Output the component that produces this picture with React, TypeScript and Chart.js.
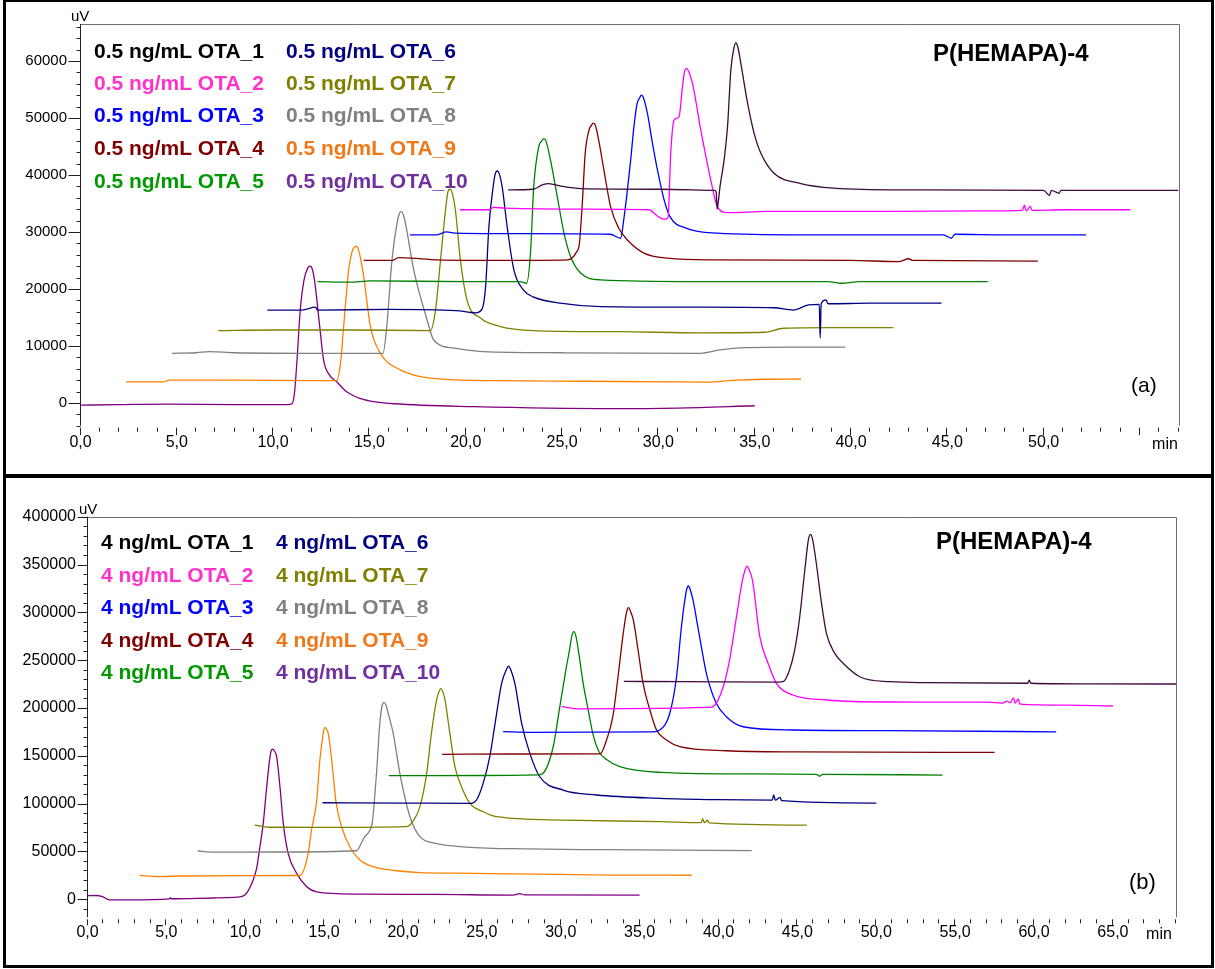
import React, { useEffect, useRef } from 'react';
import { Chart, registerables } from 'chart.js';

Chart.register(...registerables);

type Pt = [number, number];

const FONT = '"Liberation Sans", Arial, sans-serif';

const seriesNames = ['OTA_1', 'OTA_2', 'OTA_3', 'OTA_4', 'OTA_5', 'OTA_6', 'OTA_7', 'OTA_8', 'OTA_9', 'OTA_10'];
const concA = '0.5 ng/mL';
const concB = '4 ng/mL';
const panelTitle = 'P(HEMAPA)-4';
const panelTagA = '(a)';
const panelTagB = '(b)';
const yUnit = 'uV';
const xUnit = 'min';

const lineColors = ['#3c0a3c', '#ff00ff', '#0000ff', '#800000', '#008000', '#000080', '#808000', '#808080', '#ff8000', '#800080'];
const textColors = ['#000000', '#ff33cc', '#0000ff', '#800000', '#009900', '#000080', '#808000', '#808080', '#f07818', '#7030a0'];

// x tick labels (min) and y tick labels (uV)
const xLabelsA = [0, 5, 10, 15, 20, 25, 30, 35, 40, 45, 50];
const yLabelsA = [0, 10000, 20000, 30000, 40000, 50000, 60000];
const xLabelsB = [0, 5, 10, 15, 20, 25, 30, 35, 40, 45, 50, 55, 60, 65];
const yLabelsB = [0, 50000, 100000, 150000, 200000, 250000, 300000, 350000, 400000];

// ---------- Panel (a): 0.5 ng/mL ----------
const a1: Pt[] = [[22.2, 37400], [23.5, 37500], [24.0, 38300], [24.3, 38500], [25.0, 38000], [26, 37600], [30, 37500], [32.9, 37300], [33.0, 37000], [33.05, 34000], [33.1, 35000], [33.2, 38000], [33.41, 42600], [33.59, 48500], [33.76, 58400], [33.92, 62300], [34.02, 63200], [34.12, 62500], [34.28, 59600], [34.63, 52600], [34.97, 47300], [35.32, 43800], [36.0, 40300], [37.4, 38500], [39.1, 37700], [42.6, 37400], [50.0, 37300], [50.3, 36400], [50.4, 37300], [50.8, 36800], [50.9, 37300], [57, 37300]];
const a2: Pt[] = [[19.7, 33900], [21.2, 33900], [21.45, 34300], [22, 34200], [26, 34000], [29.5, 33900], [29.95, 32800], [30.3, 32200], [30.5, 32500], [30.64, 43800], [30.81, 49600], [31.07, 50200], [31.25, 55500], [31.35, 58000], [31.45, 58700], [31.57, 58200], [31.77, 56100], [32.2, 47900], [32.72, 39100], [33.07, 34400], [33.59, 33400], [35.67, 33600], [42, 33600], [47, 33700], [48.9, 33800], [49.0, 34700], [49.1, 33700], [49.3, 34500], [49.4, 33800], [51, 33900], [54.5, 33900]];
const a3: Pt[] = [[17.1, 29500], [18.5, 29500], [19.0, 30000], [19.5, 29800], [23, 29700], [27.5, 29600], [28.04, 28900], [28.2, 32100], [28.56, 42600], [28.73, 48500], [28.9, 52600], [29.02, 53500], [29.12, 54000], [29.22, 53600], [29.43, 50800], [29.69, 45600], [29.95, 40900], [30.3, 35600], [30.6, 32700], [31.5, 30600], [33.07, 29800], [37.4, 29500], [44.8, 29500], [45.2, 28900], [45.4, 29600], [48, 29500], [52.2, 29500]];
const a4: Pt[] = [[14.7, 25000], [16.2, 25000], [16.5, 25500], [17.2, 25400], [18.5, 25100], [22, 25000], [25.3, 25100], [25.75, 26500], [25.9, 28000], [26.05, 35000], [26.2, 43800], [26.4, 47900], [26.52, 48700], [26.62, 49100], [26.74, 48600], [26.9, 46100], [27.17, 40900], [27.52, 34400], [27.95, 30600], [28.39, 28600], [29.25, 26300], [30.47, 25400], [33, 25100], [40, 25000], [42.5, 24800], [43, 25300], [43.2, 25000], [49.7, 24900]];
const a5: Pt[] = [[12.3, 21300], [14, 21200], [15, 21400], [20, 21300], [22.8, 21300], [23.16, 21000], [23.36, 26300], [23.53, 38000], [23.79, 45000], [23.95, 46000], [24.05, 46400], [24.17, 45900], [24.4, 42600], [24.75, 36200], [25.1, 29800], [25.44, 25700], [25.96, 22800], [27, 21600], [32, 21300], [38.8, 21300], [39.5, 21000], [40.5, 21300], [47.1, 21300]];
const a6: Pt[] = [[9.7, 16300], [11.5, 16300], [12.2, 16800], [12.3, 16300], [16, 16400], [19.5, 16200], [20.5, 15800], [20.85, 16500], [21.03, 20400], [21.2, 30900], [21.42, 37900], [21.53, 40200], [21.63, 40700], [21.74, 40200], [21.89, 37900], [22.15, 30900], [22.5, 23300], [23.0, 19800], [23.5, 18600], [24.9, 17500], [27, 16900], [32, 16800], [36, 16700], [37, 16300], [37.8, 17200], [38.35, 17300], [38.4, 11400], [38.45, 17400], [38.7, 18100], [38.8, 17400], [41, 17500], [44.7, 17500]];
const a7: Pt[] = [[7.15, 12700], [10, 12800], [14, 12800], [18.16, 12700], [18.43, 16300], [18.69, 25100], [18.95, 33900], [19.07, 37000], [19.17, 37500], [19.28, 37000], [19.46, 33900], [19.72, 25100], [20.07, 18000], [20.76, 14900], [21.8, 13400], [23.5, 12700], [28, 12500], [32.2, 12300], [35.5, 12400], [36.5, 13100], [39, 13200], [42.2, 13200]];
const a8: Pt[] = [[4.75, 8700], [6.0, 8800], [6.7, 9000], [8, 8800], [12, 8700], [15.7, 8700], [15.9, 13400], [16.17, 25100], [16.43, 31500], [16.54, 33100], [16.64, 33600], [16.75, 33100], [16.87, 31500], [17.3, 23300], [17.99, 14600], [18.34, 11000], [19.4, 9600], [20.9, 9000], [25, 8800], [32.2, 8700], [33.2, 9300], [34.5, 9700], [37, 9800], [39.7, 9800]];
const a9: Pt[] = [[2.37, 3700], [4.3, 3700], [4.6, 4000], [8, 4000], [12, 3900], [13.3, 3900], [13.5, 7000], [13.66, 13400], [13.92, 23300], [14.12, 26800], [14.22, 27300], [14.3, 27500], [14.4, 27200], [14.5, 26000], [14.7, 22200], [15.05, 13400], [15.57, 8700], [16.6, 5800], [18.3, 4300], [21.8, 3900], [26, 3800], [30.5, 3700], [32.5, 3650], [34, 4000], [35.5, 4150], [37.4, 4200]];
const a10: Pt[] = [[0, -400], [2, -300], [4.5, -200], [8, -300], [10.5, -300], [10.95, -200], [11.1, 1500], [11.25, 8000], [11.4, 16000], [11.6, 21500], [11.8, 23700], [11.93, 24000], [12.05, 23300], [12.15, 21500], [12.4, 14000], [12.62, 7500], [12.9, 5000], [13.3, 3700], [13.8, 2000], [14.5, 800], [15.3, 200], [16.3, -150], [20.4, -650], [27.7, -1000], [31, -900], [35, -500]];

// ---------- Panel (b): 4 ng/mL ----------
const b1: Pt[] = [[34.0, 227700], [38, 227500], [43.8, 227000], [44.1, 227400], [44.5, 239600], [44.83, 260600], [45.15, 295400], [45.47, 344200], [45.7, 376000], [45.83, 381600], [45.96, 376500], [46.17, 354700], [46.53, 309400], [46.84, 278000], [47.37, 257100], [47.9, 246700], [48.95, 232600], [50.85, 227400], [53.2, 226400], [59.6, 225800], [59.7, 229000], [59.8, 225800], [63, 225200], [69, 225000]];
const b2: Pt[] = [[30.05, 201300], [31.2, 198900], [36, 199500], [39.4, 200500], [39.66, 201300], [40.3, 222200], [40.7, 250100], [41.14, 295400], [41.52, 333800], [41.68, 344000], [41.81, 348400], [41.94, 344500], [42.15, 333800], [42.62, 274200], [43.14, 246700], [43.67, 225700], [44.72, 213500], [46.84, 208300], [50.85, 206200], [57, 206000], [58.0, 205000], [58.3, 207000], [58.5, 205500], [58.7, 210500], [58.8, 205000], [59.0, 209500], [59.1, 204000], [62, 203000], [65, 202000]];
const b3: Pt[] = [[26.35, 175100], [28, 174500], [35.8, 175000], [36.28, 176900], [36.91, 194400], [37.34, 232600], [37.65, 284900], [37.96, 322500], [38.09, 327500], [38.22, 323000], [38.38, 312900], [38.8, 274500], [39.23, 236200], [39.86, 204800], [40.5, 190800], [41.56, 180300], [44.7, 176900], [50.85, 176200], [61.4, 175000]];
const b4: Pt[] = [[22.48, 151500], [27, 151800], [32.5, 152000], [32.9, 166400], [33.3, 190800], [33.63, 232600], [33.96, 278000], [34.17, 300000], [34.3, 304800], [34.43, 300500], [34.6, 292000], [34.9, 260600], [35.22, 225700], [35.65, 197800], [36.07, 176900], [36.7, 166400], [37.55, 159400], [40.5, 155200], [45, 154000], [57.5, 153500]];
const b5: Pt[] = [[19.1, 129100], [25, 129300], [28.6, 130000], [28.88, 131600], [29.52, 159400], [29.94, 201300], [30.36, 243100], [30.57, 262000], [30.7, 275000], [30.83, 279700], [30.96, 275000], [31.1, 262000], [31.42, 225700], [31.74, 197800], [32.05, 172000], [32.4, 155000], [32.9, 146000], [33.75, 138500], [36.3, 132600], [42, 131000], [46.2, 130500], [46.4, 128500], [46.6, 130500], [54.2, 129800]];
const b6: Pt[] = [[14.9, 100800], [20, 100500], [24.3, 100200], [24.66, 103700], [25.08, 121100], [25.5, 149000], [25.87, 187300], [26.25, 225700], [26.55, 240000], [26.69, 243800], [26.83, 240000], [27.09, 225700], [27.52, 183900], [28.04, 152500], [28.67, 128000], [30.15, 114100], [32.27, 108900], [36.3, 105400], [40, 104000], [43.4, 103500], [43.5, 109000], [43.6, 103500], [43.9, 106500], [44, 103000], [50, 100500]];
const b7: Pt[] = [[10.6, 77500], [11.5, 75200], [15, 75000], [20.2, 75800], [20.44, 77500], [21.07, 96700], [21.5, 131600], [21.8, 173400], [22.13, 208300], [22.27, 216500], [22.4, 220100], [22.53, 216500], [22.66, 208300], [22.97, 173400], [23.29, 138500], [23.71, 117600], [24.24, 100200], [25.09, 91400], [25.93, 86200], [30.15, 82700], [36.3, 81000], [38.9, 80000], [39.0, 84000], [39.1, 80000], [39.3, 82500], [39.4, 79800], [45.6, 77500]];
const b8: Pt[] = [[6.98, 50600], [7.8, 49200], [12, 49300], [17.06, 50600], [17.4, 60000], [17.58, 65300], [17.9, 72000], [18.05, 80000], [18.32, 131600], [18.53, 183900], [18.67, 202000], [18.8, 205900], [18.93, 202500], [19.06, 194400], [19.38, 173400], [19.8, 131600], [20.44, 86200], [21.07, 65300], [22, 58500], [24, 54500], [28, 52500], [35, 51500], [42.1, 50800]];
const b9: Pt[] = [[3.3, 24900], [4.5, 23600], [6, 24200], [10, 24500], [13.46, 24700], [13.99, 47900], [14.2, 72300], [14.52, 101900], [14.73, 145500], [14.94, 173400], [14.99, 177500], [15.07, 179700], [15.16, 177500], [15.26, 173400], [15.48, 145500], [15.75, 101900], [16.11, 75700], [16.63, 54800], [17.27, 40900], [18.1, 33900], [19.6, 29700], [21.07, 27800], [24.4, 27000], [30, 25800], [33.4, 25200], [38.3, 25000]];
const b10: Pt[] = [[0, 3600], [0.5, 3800], [0.9, 3000], [1.4, -800], [2.5, -700], [5.2, 300], [5.25, 1500], [5.3, 400], [8, 1200], [9.5, 2000], [9.98, 4300], [10.5, 20000], [10.72, 32200], [10.93, 54800], [11.14, 79300], [11.36, 117600], [11.57, 149000], [11.64, 155000], [11.74, 157000], [11.85, 155000], [11.99, 149000], [12.2, 117600], [12.41, 79300], [12.72, 47900], [13.26, 27000], [13.9, 13000], [14.52, 7700], [17.06, 5300], [22, 5000], [27, 4200], [27.4, 5800], [27.7, 4400], [35, 4200]];

const seriesA = [a1, a2, a3, a4, a5, a6, a7, a8, a9, a10];
const seriesB = [b1, b2, b3, b4, b5, b6, b7, b8, b9, b10];

interface PanelCfg {
  w: number;
  h: number;
  series: Pt[][];
  conc: string;
  tag: string;
  xMax: number;
  yMin: number;
  yMax: number;
  yStep: number;
  yMajor: number;
  xLabels: number[];
  yLabels: number[];
  area: { left: number; right: number; top: number; bottom: number };
  yFont: number;
  yPad: number;
  yMajorLen: number;
  xPad: number;
  xMajorLen: number;
  legendX: number[];
  legendRows: number[];
  titleX: number;
  titleY: number;
  tagX: number;
  tagY: number;
  tagSize: number;
  unitY: [number, number];
  unitX: [number, number];
}

const cfgA: PanelCfg = {
  w: 1215, h: 474, series: seriesA, conc: concA, tag: panelTagA,
  xMax: 57, yMin: -4000, yMax: 66500, yStep: 2000, yMajor: 10000,
  xLabels: xLabelsA, yLabels: yLabelsA,
  area: { left: 80.5, right: 1178.5, top: 24, bottom: 425.7 },
  yFont: 15, yPad: 13.5, yMajorLen: 12, xPad: 7.5, xMajorLen: 7.5,
  legendX: [94, 286], legendRows: [50, 82, 114, 147, 180],
  titleX: 933, titleY: 52, tagX: 1131, tagY: 386, tagSize: 21,
  unitY: [71, 16], unitX: [1165, 443],
};

const cfgB: PanelCfg = {
  w: 1215, h: 491, series: seriesB, conc: concB, tag: panelTagB,
  xMax: 69, yMin: -19000, yMax: 400000, yStep: 10000, yMajor: 50000,
  xLabels: xLabelsB, yLabels: yLabelsB,
  area: { left: 87.5, right: 1176, top: 38.7, bottom: 439.3 },
  yFont: 16, yPad: 11.5, yMajorLen: 10, xPad: 6, xMajorLen: 6,
  legendX: [101, 276], legendRows: [63.7, 96, 128.7, 161.3, 193],
  titleX: 936, titleY: 62, tagX: 1129, tagY: 405, tagSize: 22,
  unitY: [79, 31], unitX: [1159, 455],
};

function fmtX(v: number) {
  return v.toFixed(1).replace('.', ',');
}

function stepTicks(min: number, max: number, step: number) {
  const out: { value: number }[] = [];
  const start = Math.ceil(min / step);
  const end = Math.floor(max / step);
  for (let k = start; k <= end; k++) out.push({ value: k * step });
  return out;
}

function Panel({ cfg }: { cfg: PanelCfg }) {
  const ref = useRef<HTMLCanvasElement>(null);
  useEffect(() => {
    const canvas = ref.current;
    if (!canvas) return;
    const overlay = {
      id: 'overlay',
      afterDraw(chart: any) {
        const ctx: CanvasRenderingContext2D = chart.ctx;
        const { left, right, top, bottom } = chart.chartArea;
        const xs = chart.scales.x;
        const ys = chart.scales.y;
        ctx.save();
        // frame (top & right)
        ctx.strokeStyle = '#6e6e6e';
        ctx.lineWidth = 1;
        ctx.beginPath();
        ctx.moveTo(left, Math.round(top) + 0.5);
        ctx.lineTo(Math.round(right) + 0.5, Math.round(top) + 0.5);
        ctx.lineTo(Math.round(right) + 0.5, bottom);
        ctx.stroke();
        // y axis line
        const ax = Math.round(left) - 0.5;
        ctx.strokeStyle = '#222';
        ctx.beginPath();
        ctx.moveTo(ax, top);
        ctx.lineTo(ax, bottom);
        ctx.stroke();
        // y ticks
        ctx.beginPath();
        for (const tk of ys.ticks) {
          const v = tk.value;
          const py = Math.round(ys.getPixelForValue(v)) + 0.5;
          const len = Math.abs(v % cfg.yMajor) < 1e-6 ? cfg.yMajorLen : 4;
          ctx.moveTo(ax - len, py);
          ctx.lineTo(ax, py);
        }
        ctx.stroke();
        // x ticks
        ctx.beginPath();
        for (const tk of xs.ticks) {
          const v = tk.value;
          const px = Math.round(xs.getPixelForValue(v)) - 0.5;
          const len = Math.round(v) % 5 === 0 ? cfg.xMajorLen : 4;
          ctx.moveTo(px, bottom + 2);
          ctx.lineTo(px, bottom + 2 + len);
        }
        ctx.stroke();
        // units
        ctx.fillStyle = '#000';
        ctx.textBaseline = 'alphabetic';
        ctx.textAlign = 'left';
        ctx.font = `15px ${FONT}`;
        ctx.fillText(yUnit, cfg.unitY[0], cfg.unitY[1] + 5.4);
        ctx.textAlign = 'center';
        ctx.font = `16px ${FONT}`;
        ctx.fillText(xUnit, cfg.unitX[0], cfg.unitX[1] + 5.7);
        // legend
        ctx.textAlign = 'left';
        ctx.font = `bold 21px ${FONT}`;
        cfg.series.forEach((_, i) => {
          const col = i < 5 ? 0 : 1;
          const row = i % 5;
          ctx.fillStyle = textColors[i];
          ctx.fillText(`${cfg.conc} ${seriesNames[i]}`, cfg.legendX[col], cfg.legendRows[row] + 7.5);
        });
        // title
        ctx.fillStyle = '#000';
        ctx.font = `bold 24px ${FONT}`;
        ctx.fillText(panelTitle, cfg.titleX, cfg.titleY + 8.6);
        // tag
        ctx.font = `${cfg.tagSize}px ${FONT}`;
        ctx.fillText(cfg.tag, cfg.tagX, cfg.tagY + cfg.tagSize * 0.27);
        ctx.restore();
      },
    };
    const chart = new Chart(canvas, {
      type: 'line',
      data: {
        datasets: cfg.series.map((pts, i) => ({
          label: `${cfg.conc} ${seriesNames[i]}`,
          data: pts.map(([x, y]) => ({ x, y })),
          borderColor: lineColors[i],
          backgroundColor: lineColors[i],
          borderWidth: 1.3,
          pointRadius: 0,
          fill: false,
          cubicInterpolationMode: 'monotone',
        })),
      },
      options: {
        responsive: false,
        animation: false,
        events: [],
        layout: {
          padding: { left: 0, top: cfg.area.top, right: cfg.w - cfg.area.right, bottom: 0 },
        },
        plugins: { legend: { display: false }, tooltip: { enabled: false }, title: { display: false } },
        scales: {
          x: {
            type: 'linear',
            min: 0,
            max: cfg.xMax,
            grid: { display: false, drawTicks: false },
            border: { display: false },
            afterBuildTicks: (s: any) => { s.ticks = stepTicks(0, cfg.xMax, 1); },
            afterFit: (s: any) => { s.height = cfg.h - cfg.area.bottom; },
            ticks: {
              autoSkip: false,
              maxRotation: 0,
              minRotation: 0,
              padding: cfg.xPad,
              color: '#000',
              font: { family: FONT, size: 16 },
              callback: (v: any) => (cfg.xLabels.includes(Number(v)) ? fmtX(Number(v)) : ''),
            },
          },
          y: {
            type: 'linear',
            min: cfg.yMin,
            max: cfg.yMax,
            grid: { display: false, drawTicks: false },
            border: { display: false },
            afterBuildTicks: (s: any) => { s.ticks = stepTicks(cfg.yMin, cfg.yMax, cfg.yStep); },
            afterFit: (s: any) => { s.width = cfg.area.left; },
            ticks: {
              autoSkip: false,
              padding: cfg.yPad,
              color: '#000',
              font: { family: FONT, size: cfg.yFont },
              callback: (v: any) => (cfg.yLabels.includes(Number(v)) ? String(v) : ''),
            },
          },
        },
      },
      plugins: [overlay],
    } as any);
    return () => chart.destroy();
  }, [cfg]);
  return <canvas ref={ref} width={cfg.w} height={cfg.h} style={{ display: 'block', width: cfg.w, height: cfg.h }} />;
}

export default function App() {
  return (
    <div style={{ position: 'absolute', left: 0, top: 0, width: 1215, height: 969, background: '#fff', overflow: 'hidden' }}>
      <div style={{ position: 'absolute', left: 0, top: 0 }}>
        <Panel cfg={cfgA} />
      </div>
      <div style={{ position: 'absolute', left: 0, top: 478 }}>
        <Panel cfg={cfgB} />
      </div>
      <div style={{ position: 'absolute', left: 3, top: -1, width: 1211, height: 969, border: '3px solid #000', boxSizing: 'border-box', pointerEvents: 'none' }} />
      <div style={{ position: 'absolute', left: 3, top: 474, width: 1211, height: 4, background: '#000' }} />
    </div>
  );
}
